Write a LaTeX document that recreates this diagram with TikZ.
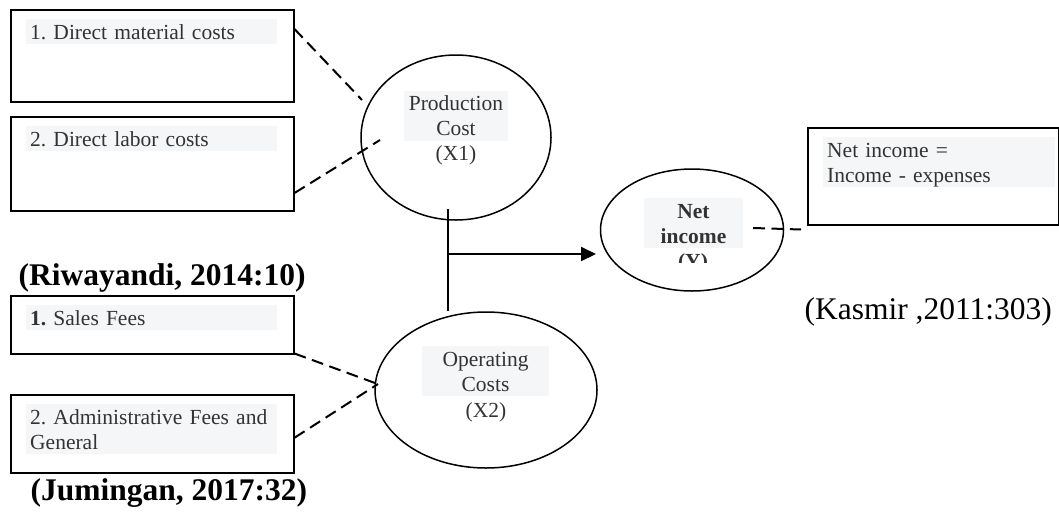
\documentclass[tikz,border=0pt]{standalone}
\usepackage{fontspec}
\setmainfont{Liberation Serif}
\usepackage{tikz}
\usetikzlibrary{shapes.geometric,arrows.meta}
\definecolor{txtgray}{HTML}{333333}
\definecolor{shade}{HTML}{F5F6F8}
\newcommand{\boxfont}{\fontsize{21.5}{25}\selectfont\frenchspacing}
\newcommand{\citefont}{\fontsize{31.5}{36}\selectfont\frenchspacing}
\newcommand{\hlstrut}{\rule[-5pt]{0pt}{25pt}}
\newcommand{\tikzFactorBox}[6]{
  \node[factor,minimum width=#3,minimum height=#4,anchor=north west] (#1) at (#2) {};
  \node[shaded,anchor=north west,xshift=16pt,yshift=-10pt,text width=#5,inner xsep=4pt,align=left] (#1t) at (#1.north west) {\hlstrut #6\hlstrut};
}

\begin{document}
\begin{tikzpicture}[x=1pt,y=-1pt,
  factor/.style={draw,line width=1.5pt,rectangle,inner sep=0pt},
  oval/.style={draw,line width=1.5pt,ellipse,inner sep=0pt},
  shaded/.style={fill=shade,text=txtgray,inner ysep=0pt,font=\boxfont},
  link/.style={line width=2pt,dash pattern=on 12pt off 6.5pt},
  flow/.style={line width=2pt}]
  \useasboundingbox (0,0) rectangle (1059,512);

  \tikzFactorBox{b1}{10,9}{283pt}{92pt}{243pt}{1. Direct material costs}
  \tikzFactorBox{b2}{10,116}{283pt}{94pt}{243pt}{2. Direct labor costs}
  \tikzFactorBox{b3}{10,295}{283pt}{58pt}{243pt}{\textbf{1.} Sales Fees}
  \tikzFactorBox{b4}{10,394}{283pt}{78pt}{243pt}{2. Administrative Fees and\\General}
  \tikzFactorBox{nb}{807,127}{251pt}{97pt}{224pt}{Net income =\\Income - expenses}

  \node[oval,minimum width=190pt,minimum height=165pt] (pc) at (456,137.5) {};
  \node[shaded,text width=100pt,inner xsep=2pt,align=center] (pct) at (456,115.5) {\hlstrut Production\\Cost\hlstrut};
  \node[anchor=base,text=txtgray,font=\boxfont] (pcx) at (456,160) {(X1)};

  \node[oval,minimum width=222pt,minimum height=156pt] (oc) at (486,390) {};
  \node[shaded,text width=123pt,inner xsep=2pt,align=center] (oct) at (485.5,371) {\hlstrut Operating\\Costs\hlstrut};
  \node[anchor=base,text=txtgray,font=\boxfont] (ocx) at (486,417) {(X2)};

  \node[oval,minimum width=183pt,minimum height=122pt] (ni) at (692,230) {};
  \node[shaded,text width=95pt,inner xsep=2pt,align=center,font=\boxfont\bfseries] (nit) at (693.5,223) {\hlstrut Net\\income\hlstrut};
  \begin{scope}
    \clip (640,249) rectangle (745,262);
    \node[anchor=base,text=txtgray,font=\boxfont\bfseries] (niy) at (693,268) {(Y)};
  \end{scope}

  \coordinate (p1) at (362,100);
  \coordinate (p2) at (380,140);
  \coordinate (o1) at (375,383);
  \coordinate (o2) at (378,384);
  \coordinate (n1) at (753,228);
  \draw[link] ([yshift=-20pt]b1.north east) -- (p1);
  \draw[link] ([yshift=-77pt]b2.north east) -- (p2);
  \draw[link] ([yshift=1pt]b3.south east) -- (o1);
  \draw[link] ([yshift=-4pt]b4.east) -- (o2);
  \draw[link] (n1) -- ([shift={(-6pt,-4pt)}]nb.south west);

  \coordinate (jt) at (448,209);
  \coordinate (jm) at (448,254);
  \coordinate (jb) at (448,311);
  \coordinate (nt) at (596,254);
  \draw[flow] (jt) -- (jb);
  \draw[flow,-{Triangle[length=15pt,width=14pt]}] (jm) -- (nt);

  \node[anchor=base west,font=\citefont\bfseries] (c1) at (15,285) {(Riwayandi, 2014:10)};
  \node[anchor=base west,font=\citefont\bfseries] (c2) at (27,500) {(Jumingan, 2017:32)};
  \node[anchor=base west,font=\citefont] (c3) at (801,319) {(Kasmir ,2011:303)};
\end{tikzpicture}
\end{document}
